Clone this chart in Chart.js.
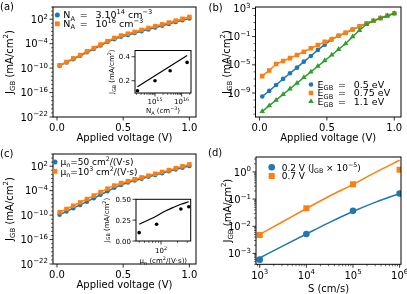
<!DOCTYPE html>
<html>
<head>
<meta charset="utf-8">
<script src="https://cdn.jsdelivr.net/npm/chart.js@4.4.1/dist/chart.umd.min.js"></script>
<style>
body{margin:0;background:#fff}
#fig{position:relative;width:407px;height:294px;background:#fff;overflow:hidden}
canvas{position:absolute}
</style>
</head>
<body>
<div id="fig">
<canvas id="ca" width="203" height="147" style="left:0;top:0"></canvas>
<canvas id="cb" width="204" height="147" style="left:203px;top:0"></canvas>
<canvas id="cc" width="203" height="147" style="left:0;top:147px"></canvas>
<canvas id="cd" width="204" height="147" style="left:203px;top:147px"></canvas>
<canvas id="ia" width="100" height="80" style="left:100px;top:40px"></canvas>
<canvas id="ic" width="100" height="80" style="left:100px;top:190px"></canvas>
</div>
<script>
// ---- data ----
const volt = [0.02, 0.072, 0.123, 0.175, 0.226, 0.278, 0.329, 0.381, 0.433, 0.484,
              0.536, 0.587, 0.639, 0.691, 0.742, 0.794, 0.845, 0.897, 0.948, 1.0];

// (a) N_A = 3e14 / 1e16
const jA_lowNA = [4.0e-10, 2.5e-9, 1.6e-8, 1.1e-7, 7.9e-7, 5.0e-6, 3.5e-5, 2.5e-4, 1.3e-3, 5.0e-3,
                  1.4e-2, 4.0e-2, 0.11, 0.32, 0.89, 2.5, 7.1, 20, 56, 160];
const jA_highNA = [5.0e-10, 3.2e-9, 2.5e-8, 1.6e-7, 1.3e-6, 7.9e-6, 6.3e-5, 4.0e-4, 2.5e-3, 1.0e-2,
                   2.8e-2, 7.9e-2, 0.25, 0.71, 2.0, 5.6, 16, 45, 126, 355];

// (b) E_GB = 0.5 / 0.75 / 1.1 eV
const jB_05 = [3.2e-10, 2.0e-9, 1.4e-8, 1.0e-7, 6.3e-7, 4.0e-6, 2.8e-5, 1.8e-4, 1.3e-3, 7.1e-3,
               4.0e-2, 0.13, 0.35, 1.0, 2.8, 7.1, 18, 42, 93, 200];
const jB_075 = [2.5e-7, 1.6e-6, 1.3e-5, 3.5e-5, 8.9e-5, 2.5e-4, 7.1e-4, 2.2e-3, 6.3e-3, 1.8e-2,
                4.5e-2, 0.13, 0.35, 1.0, 2.8, 7.1, 18, 42, 93, 200];
const jB_11 = [2.5e-12, 1.6e-11, 1.0e-10, 6.3e-10, 4.0e-9, 2.5e-8, 1.6e-7, 1.0e-6, 6.3e-6, 4.0e-5,
               2.5e-4, 1.6e-3, 1.0e-2, 0.1, 0.79, 5.6, 17, 40, 89, 200];

// (c) mu_n = 50 / 1e3
const jC_mu50 = [1.3e-10, 7.9e-10, 5.0e-9, 3.2e-8, 2.0e-7, 1.4e-6, 1.0e-5, 7.1e-5, 5.0e-4, 2.5e-3,
                 1.0e-2, 3.2e-2, 8.9e-2, 0.25, 0.71, 2.0, 5.6, 16, 45, 112];
const jC_mu1000 = [5.0e-10, 3.2e-9, 2.0e-8, 1.3e-7, 8.9e-7, 6.3e-6, 4.5e-5, 3.2e-4, 1.8e-3, 7.1e-3,
                   2.2e-2, 6.3e-2, 0.18, 0.5, 1.4, 4.0, 11, 32, 100, 280];

// (d) J_GB vs S
const sPts = [1e3, 1e4, 1e5, 1e6];
const jD_02 = [5.9e-4, 5.2e-3, 3.7e-2, 0.16];
const jD_07 = [4.8e-3, 4.6e-2, 0.35, 1.2];
const sLine = [1e3, 3.16e3, 1e4, 3.16e4, 1e5, 3.16e5, 1e6];
const jD_02line = [6.8e-4, 1.9e-3, 5.2e-3, 1.4e-2, 3.5e-2, 7.9e-2, 0.16];
const jD_07line = [5.0e-3, 1.5e-2, 4.5e-2, 0.13, 0.35, 1.0, 2.7];

// inset (a): J_GB vs N_A
const naPts = [2.2e14, 1.0e15, 3.7e15, 1.6e16];
const jNaPts = [0.117, 0.20, 0.283, 0.353];
const naLine = [2.2e14, 1.6e16];
const jNaLine = [0.15, 0.41];

// inset (c): J_GB vs mu_n
const muPts = [40, 83, 230, 320];
const jMuPts = [0.10, 0.20, 0.384, 0.41];
const muLine = [40, 60, 83, 120, 170, 230, 320];
const jMuLine = [0.20, 0.255, 0.30, 0.36, 0.405, 0.44, 0.47];

// tick labels
const voltTicks = [[0, '0.0'], [0.5, '0.5'], [1, '1.0']];
const jTicksAC = [[1e2, '10^{2}'], [1e-4, '10^{−4}'], [1e-10, '10^{−10}'], [1e-16, '10^{−16}'], [1e-22, '10^{−22}']];
const jTicksB = [[1e3, '10^{3}'], [1e-1, '10^{−1}'], [1e-5, '10^{−5}'], [1e-9, '10^{−9}']];
const jTicksD = [[1, '10^{0}'], [1e-1, '10^{−1}'], [1e-2, '10^{−2}'], [1e-3, '10^{−3}']];
const sTicks = [[1e3, '10^{3}'], [1e4, '10^{4}'], [1e5, '10^{5}'], [1e6, '10^{6}']];
const naTicks = [[1e15, '10^{15}'], [1e16, '10^{16}']];
const jNaTicks = [[0.2, '0.2'], [0.4, '0.4']];
const muTicks = [[100, '10^{2}']];
const jMuTicks = [[0, '0.00'], [0.25, '0.25'], [0.5, '0.50']];

const BLUE = '#1f77b4', ORANGE = '#ff7f0e', GREEN = '#2ca02c';
const FONT = '"DejaVu Sans", sans-serif';
const EQ = '\u2002= \u2002';

// ---- helpers ----
function pts(xs, ys) { return xs.map((x, i) => ({x: x, y: ys[i]})); }

function decades(e0, e1, skip) {
  let out = [];
  for (let e = e0; e <= e1; e++) if (!skip.includes(e)) out.push(Math.pow(10, e));
  return out;
}
function subs(e0, e1) {
  let out = [];
  for (let e = e0; e <= e1; e++) for (let m = 2; m <= 9; m++) out.push(m * Math.pow(10, e));
  return out;
}

// split "J_{GB} (mA/cm^{2})" into normal / sub / sup pieces
function parts(s) {
  let out = [], buf = '', i = 0;
  while (i < s.length) {
    let c = s[i];
    if ((c == '_' || c == '^') && s[i + 1] == '{') {
      if (buf) { out.push({t: buf, k: 0}); buf = ''; }
      let j = s.indexOf('}', i);
      out.push({t: s.slice(i + 2, j), k: c == '_' ? -1 : 1});
      i = j + 1;
    } else { buf += c; i++; }
  }
  if (buf) out.push({t: buf, k: 0});
  return out;
}

function rtext(ctx, s, x, y, size, align, rot) {
  let p = parts(s), w = 0;
  p.forEach(g => {
    g.fs = g.k ? size * 0.7 : size;
    ctx.font = g.fs + 'px ' + FONT;
    g.w = ctx.measureText(g.t).width;
    w += g.w;
  });
  ctx.save();
  ctx.translate(x, y);
  if (rot) ctx.rotate(rot);
  ctx.fillStyle = '#000';
  ctx.textAlign = 'left';
  ctx.textBaseline = 'alphabetic';
  let cx = align == 'left' ? 0 : align == 'right' ? -w : -w / 2;
  p.forEach(g => {
    ctx.font = g.fs + 'px ' + FONT;
    let dy = g.k > 0 ? -0.42 * size : g.k < 0 ? 0.22 * size : 0;
    ctx.fillText(g.t, cx, 0.36 * size + dy);
    cx += g.w;
  });
  ctx.restore();
}

function marker(ctx, shape, x, y, r, color) {
  ctx.fillStyle = color;
  ctx.beginPath();
  if (shape == 'circle') ctx.arc(x, y, r, 0, Math.PI * 2);
  else if (shape == 'rect') ctx.rect(x - r * 0.707, y - r * 0.707, r * 1.414, r * 1.414);
  else { ctx.moveTo(x, y - r); ctx.lineTo(x + r * 0.866, y + r / 2); ctx.lineTo(x - r * 0.866, y + r / 2); ctx.closePath(); }
  ctx.fill();
}

// axes frame, ticks, labels, legend, panel letter
function decor(sp) {
  return {
    id: 'decor',
    beforeDatasetsDraw(chart) {
      if (!sp.inset) return;
      let a = chart.chartArea, ctx = chart.ctx;
      ctx.save();
      ctx.fillStyle = '#fff';
      ctx.fillRect(a.left, a.top, a.right - a.left, a.bottom - a.top);
      ctx.restore();
    },
    afterDraw(chart) {
      let ctx = chart.ctx, a = chart.chartArea;
      let xs = chart.scales.x, ys = chart.scales.y;
      let fs = sp.font;
      ctx.save();
      ctx.strokeStyle = '#000';
      ctx.lineWidth = 0.6;
      ctx.beginPath();
      (sp.xMinor || []).forEach(v => {
        let px = xs.getPixelForValue(v);
        if (px < a.left - 0.5 || px > a.right + 0.5) return;
        ctx.moveTo(px, a.bottom); ctx.lineTo(px, a.bottom + 2);
      });
      (sp.yMinor || []).forEach(v => {
        let py = ys.getPixelForValue(v);
        if (py < a.top - 0.5 || py > a.bottom + 0.5) return;
        ctx.moveTo(a.left, py); ctx.lineTo(a.left - 2, py);
      });
      ctx.stroke();
      ctx.lineWidth = 0.8;
      ctx.beginPath();
      sp.xTicks.forEach(t => {
        let px = xs.getPixelForValue(t[0]);
        ctx.moveTo(px, a.bottom); ctx.lineTo(px, a.bottom + 3.5);
      });
      sp.yTicks.forEach(t => {
        let py = ys.getPixelForValue(t[0]);
        ctx.moveTo(a.left, py); ctx.lineTo(a.left - 3.5, py);
      });
      ctx.stroke();
      ctx.lineWidth = 1;
      ctx.strokeRect(a.left, a.top, a.right - a.left, a.bottom - a.top);

      sp.xTicks.forEach(t => rtext(ctx, t[1], xs.getPixelForValue(t[0]), a.bottom + sp.xTickDy, fs, 'center'));
      sp.yTicks.forEach(t => rtext(ctx, t[1], a.left - sp.yTickDx, ys.getPixelForValue(t[0]), fs, 'right'));
      rtext(ctx, sp.xTitle, (a.left + a.right) / 2, a.bottom + sp.xTitleDy, fs, 'center');
      rtext(ctx, sp.yTitle, sp.yTitleX, (a.top + a.bottom) / 2, fs, 'center', -Math.PI / 2);

      if (sp.legend) {
        let L = sp.legend;
        L.items.forEach((it, i) => {
          let y = L.y + i * L.dy;
          marker(ctx, it.shape, L.x, y, it.r, it.color);
          rtext(ctx, it.text, L.x + L.gap, y, L.size, 'left');
        });
      }
      if (sp.panel) rtext(ctx, sp.panel[0], sp.panel[1], sp.panel[2], 10, 'left');
      ctx.restore();
    }
  };
}

function makeChart(id, pad, xScale, yScale, datasets, sp) {
  return new Chart(document.getElementById(id), {
    type: 'scatter',
    data: {datasets: datasets},
    options: {
      responsive: false,
      animation: false,
      events: [],
      layout: {padding: pad},
      plugins: {legend: {display: false}, tooltip: {enabled: false}},
      scales: {
        x: Object.assign({display: false, bounds: 'data'}, xScale),
        y: Object.assign({display: false, bounds: 'data'}, yScale)
      }
    },
    plugins: [decor(sp)]
  });
}

function curve(xs, ys, color, shape, r, order) {
  return {data: pts(xs, ys), showLine: true, borderColor: color, borderWidth: 1.5,
          pointStyle: shape, pointRadius: r, pointBackgroundColor: color, pointBorderWidth: 0, order: order};
}
function dots(xs, ys, color, shape, r, order) {
  return {data: pts(xs, ys), showLine: false, pointStyle: shape, pointRadius: r,
          pointBackgroundColor: color, pointBorderWidth: 0, order: order};
}
function line(xs, ys, color, w, order) {
  return {data: pts(xs, ys), showLine: true, borderColor: color, borderWidth: w, pointRadius: 0,
          cubicInterpolationMode: 'monotone', order: order};
}

const voltAxis = {type: 'linear', min: -0.03, max: 1.05};
const jAxisAC = {type: 'logarithmic', min: 1e-22, max: 1e5};

// (a)
makeChart('ca', {left: 53, right: 7, top: 7, bottom: 30}, voltAxis, jAxisAC,
  [curve(volt, jA_lowNA, BLUE, 'circle', 2.3, 2), curve(volt, jA_highNA, ORANGE, 'rect', 3.2, 1)],
  {font: 10, xTicks: voltTicks, yTicks: jTicksAC, yMinor: decades(-22, 5, [2, -4, -10, -16, -22]),
   xTickDy: 10.5, yTickDx: 5, xTitle: 'Applied voltage (V)', xTitleDy: 20.5,
   yTitle: 'J_{GB} (mA/cm^{2})', yTitleX: 9, panel: ['(a)', 0, 6],
   legend: {x: 57.3, y: 15, dy: 8.8, gap: 6, size: 9.5, items: [
     {text: 'N_{A}' + EQ + '3.10^{14} cm^{−3}', color: BLUE, shape: 'circle', r: 2.5},
     {text: 'N_{A}' + EQ + '10^{16} cm^{−3}', color: ORANGE, shape: 'rect', r: 3.4}]}});

// (b)
makeChart('cb', {left: 52.5, right: 6, top: 7, bottom: 30}, voltAxis,
  {type: 'logarithmic', min: 3.98e-13, max: 1585},
  [curve(volt, jB_05, BLUE, 'circle', 2.3, 3), curve(volt, jB_075, ORANGE, 'rect', 3.2, 2),
   curve(volt, jB_11, GREEN, 'triangle', 3.2, 1)],
  {font: 10, xTicks: voltTicks, yTicks: jTicksB, yMinor: decades(-12, 3, [3, -1, -5, -9]),
   xTickDy: 10.5, yTickDx: 5, xTitle: 'Applied voltage (V)', xTitleDy: 20.5,
   yTitle: 'J_{GB} (mA/cm^{2})', yTitleX: 23, panel: ['(b)', 5.5, 7.5],
   legend: {x: 108, y: 84.5, dy: 8.5, gap: 6.5, size: 9.5, items: [
     {text: 'E_{GB}' + EQ + '0.5 eV', color: BLUE, shape: 'circle', r: 2.3},
     {text: 'E_{GB}' + EQ + '0.75 eV', color: ORANGE, shape: 'rect', r: 3.2},
     {text: 'E_{GB}' + EQ + '1.1 eV', color: GREEN, shape: 'triangle', r: 3.2}]}});

// (c)
makeChart('cc', {left: 53, right: 7, top: 7, bottom: 30}, voltAxis, jAxisAC,
  [curve(volt, jC_mu50, BLUE, 'circle', 2.3, 2), curve(volt, jC_mu1000, ORANGE, 'rect', 3.2, 1)],
  {font: 10, xTicks: voltTicks, yTicks: jTicksAC, yMinor: decades(-22, 5, [2, -4, -10, -16, -22]),
   xTickDy: 10.5, yTickDx: 5, xTitle: 'Applied voltage (V)', xTitleDy: 20.5,
   yTitle: 'J_{GB} (mA/cm^{2})', yTitleX: 9, panel: ['(c)', 0, 6],
   legend: {x: 55, y: 15, dy: 9.3, gap: 5.5, size: 9, items: [
     {text: 'μ_{n}=50 cm^{2}/(V·s)', color: BLUE, shape: 'circle', r: 2.5},
     {text: 'μ_{n}=10^{3} cm^{2}/(V·s)', color: ORANGE, shape: 'rect', r: 3.4}]}});

// (d)
makeChart('cd', {left: 53, right: 6, top: 10, bottom: 29.7},
  {type: 'logarithmic', min: 832, max: 1.07e6},
  {type: 'logarithmic', min: 3.98e-4, max: 3.55},
  [dots(sPts, jD_02, BLUE, 'circle', 3.3, 4), dots(sPts, jD_07, ORANGE, 'rect', 4.3, 3),
   line(sLine, jD_02line, BLUE, 1.5, 2), line(sLine, jD_07line, ORANGE, 1.5, 1)],
  {font: 10, xTicks: sTicks, yTicks: jTicksD, xMinor: subs(2, 6), yMinor: subs(-4, 0),
   xTickDy: 10.7, yTickDx: 5, xTitle: 'S (cm/s)', xTitleDy: 24,
   yTitle: 'J_{GB} (mA/cm^{2})', yTitleX: 24, panel: ['(d)', 5, 5.8],
   legend: {x: 68.7, y: 20.3, dy: 8.7, gap: 10, size: 9, items: [
     {text: '0.2 V (J_{GB} × 10^{−5})', color: BLUE, shape: 'circle', r: 3.3},
     {text: '0.7 V', color: ORANGE, shape: 'rect', r: 4.3}]}});

// inset of (a)
makeChart('ia', {left: 35, right: 9, top: 10.5, bottom: 27},
  {type: 'logarithmic', min: 1.78e14, max: 2.24e16},
  {type: 'linear', min: 0.098, max: 0.452},
  [dots(naPts, jNaPts, '#000', 'circle', 1.8, 1), line(naLine, jNaLine, '#000', 1.2, 2)],
  {inset: true, font: 7, xTicks: naTicks, yTicks: jNaTicks, xMinor: subs(14, 16),
   xTickDy: 8, yTickDx: 5, xTitle: 'N_{A} (cm^{−3})', xTitleDy: 17.5,
   yTitle: 'J_{GB} (mA/cm^{2})', yTitleX: 11.7});

// inset of (c)
makeChart('ic', {left: 36, right: 9.3, top: 9.3, bottom: 29},
  {type: 'logarithmic', min: 35, max: 347},
  {type: 'linear', min: 0, max: 0.5},
  [dots(muPts, jMuPts, '#000', 'circle', 1.8, 1), line(muLine, jMuLine, '#000', 1.2, 2)],
  {inset: true, font: 7, xTicks: muTicks, yTicks: jMuTicks, xMinor: subs(1, 2),
   xTickDy: 9, yTickDx: 5, xTitle: 'μ_{n} (cm^{2}/(V·s))', xTitleDy: 19.7,
   yTitle: 'J_{GB} (mA/cm^{2})', yTitleX: 6});
</script>
</body>
</html>
